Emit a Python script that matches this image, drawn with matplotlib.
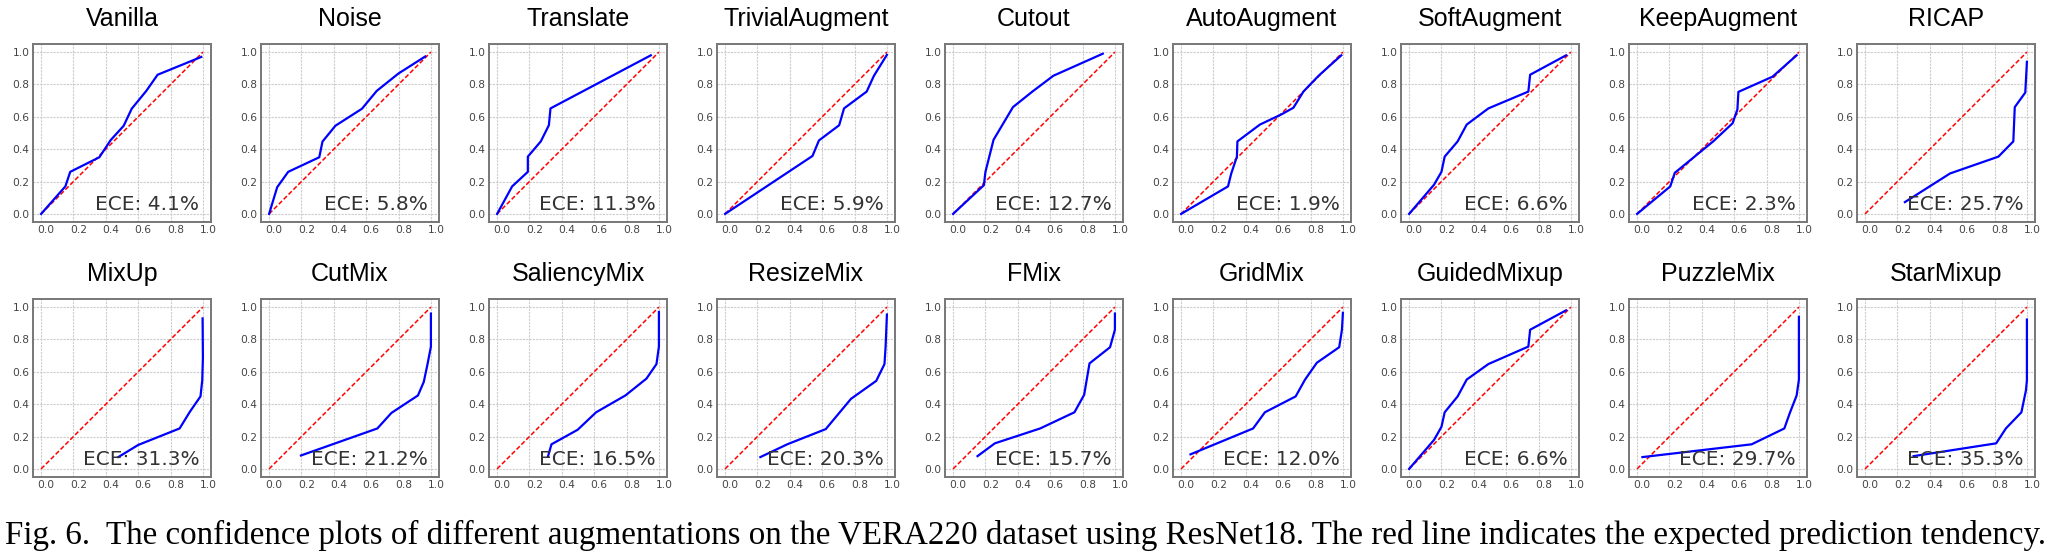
import numpy as np
import matplotlib
matplotlib.use('Agg')
import matplotlib.pyplot as plt
from matplotlib.transforms import ScaledTranslation

W, H = 2051, 553
DPI = 100

names = ['Vanilla', 'Noise', 'Translate', 'TrivialAugment', 'Cutout',
         'AutoAugment', 'SoftAugment', 'KeepAugment', 'RICAP',
         'MixUp', 'CutMix', 'SaliencyMix', 'ResizeMix', 'FMix',
         'GridMix', 'GuidedMixup', 'PuzzleMix', 'StarMixup']
ece = [4.1, 5.8, 11.3, 5.9, 12.7, 1.9, 6.6, 2.3, 25.7,
       31.3, 21.2, 16.5, 20.3, 15.7, 12.0, 6.6, 29.7, 35.3]

# confidence (x) / accuracy (y)
vanilla_x = [0.0, 0.15, 0.18, 0.36, 0.43, 0.51, 0.56, 0.65, 0.72, 0.99]
vanilla_y = [0.0, 0.17, 0.26, 0.35, 0.456, 0.544, 0.65, 0.76, 0.86, 0.97]
noise_x = [0.0, 0.05, 0.118, 0.31, 0.33, 0.41, 0.574, 0.665, 0.80, 0.965]
noise_y = [0.0, 0.165, 0.26, 0.35, 0.447, 0.545, 0.65, 0.76, 0.868, 0.973]
translate_x = [0.0, 0.093, 0.19, 0.19, 0.27, 0.32, 0.33, 0.95]
translate_y = [0.0, 0.17, 0.26, 0.354, 0.448, 0.548, 0.652, 0.98]
trivial_x = [0.0, 0.54, 0.58, 0.705, 0.735, 0.875, 0.92, 1.0]
trivial_y = [0.0, 0.358, 0.454, 0.548, 0.652, 0.756, 0.854, 0.983]
cutout_x = [0.0, 0.19, 0.2, 0.25, 0.37, 0.49, 0.62, 0.925]
cutout_y = [0.0, 0.177, 0.26, 0.458, 0.66, 0.756, 0.854, 0.99]
auto_x = [0.0, 0.29, 0.31, 0.345, 0.348, 0.487, 0.62, 0.694, 0.756, 0.85, 0.99]
auto_y = [0.0, 0.17, 0.25, 0.354, 0.448, 0.552, 0.615, 0.656, 0.756, 0.854, 0.98]
soft_x = [0.0, 0.154, 0.2, 0.22, 0.30, 0.356, 0.49, 0.737, 0.748, 0.97]
soft_y = [0.0, 0.18, 0.26, 0.354, 0.448, 0.552, 0.652, 0.756, 0.86, 0.98]
keep_x = [0.0, 0.205, 0.233, 0.47, 0.59, 0.62, 0.626, 0.837, 0.986]
keep_y = [0.0, 0.17, 0.254, 0.448, 0.56, 0.646, 0.754, 0.848, 0.98]
ricap_x = [0.246, 0.525, 0.824, 0.916, 0.925, 0.99, 1.0]
ricap_y = [0.073, 0.25, 0.354, 0.448, 0.66, 0.75, 0.94]
mixup_x = [0.477, 0.6, 0.856, 0.92, 0.985, 0.996, 1.0, 0.998]
mixup_y = [0.073, 0.148, 0.25, 0.354, 0.448, 0.548, 0.69, 0.93]
cutmix_x = [0.197, 0.669, 0.756, 0.92, 0.956, 0.98, 1.0, 1.0]
cutmix_y = [0.083, 0.25, 0.346, 0.454, 0.538, 0.652, 0.756, 0.96]
saliency_x = [0.315, 0.336, 0.498, 0.612, 0.793, 0.923, 0.985, 1.0, 1.0]
saliency_y = [0.079, 0.152, 0.242, 0.35, 0.454, 0.558, 0.648, 0.756, 0.97]
resize_x = [0.218, 0.384, 0.622, 0.778, 0.934, 0.985, 0.992, 1.0]
resize_y = [0.073, 0.152, 0.246, 0.433, 0.544, 0.648, 0.756, 0.954]
fmix_x = [0.151, 0.258, 0.538, 0.75, 0.81, 0.843, 0.97, 1.0, 1.0]
fmix_y = [0.079, 0.158, 0.25, 0.35, 0.458, 0.652, 0.752, 0.86, 0.96]
grid_x = [0.058, 0.445, 0.518, 0.708, 0.766, 0.839, 0.977, 0.994, 1.0]
grid_y = [0.09, 0.25, 0.35, 0.448, 0.552, 0.656, 0.752, 0.86, 0.965]
guided_x = [0.0, 0.154, 0.2, 0.22, 0.30, 0.356, 0.49, 0.737, 0.748, 0.97]
guided_y = [0.0, 0.179, 0.26, 0.35, 0.448, 0.552, 0.648, 0.756, 0.86, 0.98]
puzzle_x = [0.033, 0.708, 0.91, 0.944, 0.986, 1.0, 1.0]
puzzle_y = [0.073, 0.152, 0.25, 0.346, 0.454, 0.552, 0.94]
star_x = [0.3, 0.81, 0.87, 0.966, 0.994, 1.0, 1.0]
star_y = [0.079, 0.158, 0.25, 0.35, 0.485, 0.548, 0.923]

curves = [(vanilla_x, vanilla_y), (noise_x, noise_y), (translate_x, translate_y),
          (trivial_x, trivial_y), (cutout_x, cutout_y), (auto_x, auto_y),
          (soft_x, soft_y), (keep_x, keep_y), (ricap_x, ricap_y),
          (mixup_x, mixup_y), (cutmix_x, cutmix_y), (saliency_x, saliency_y),
          (resize_x, resize_y), (fmix_x, fmix_y), (grid_x, grid_y),
          (guided_x, guided_y), (puzzle_x, puzzle_y), (star_x, star_y)]

caption = ('Fig. 6.  The confidence plots of different augmentations on the VERA220 '
           'dataset using ResNet18. The red line indicates the expected prediction tendency.')

fig = plt.figure(figsize=(W / DPI, H / DPI), dpi=DPI)

ticks = [0.0, 0.2, 0.4, 0.6, 0.8, 1.0]
ax_w, ax_h = 178, 178
row_tops = [44, 299]
shift = ScaledTranslation(0.05, 0, fig.dpi_scale_trans)

for i, (name, (cx, cy)) in enumerate(zip(names, curves)):
    r, c = divmod(i, 9)
    left = 33 + 228 * c
    bottom = H - row_tops[r] - ax_h
    ax = fig.add_axes([left / W, bottom / H, ax_w / W, ax_h / H])

    ax.plot([0, 1], [0, 1], color='red', linestyle=(0, (3, 1.5)), lw=1.1, zorder=2)
    ax.plot(cx, cy, color='#0000ff', lw=1.6, zorder=3)

    ax.set_xlim(-0.05, 1.05)
    ax.set_ylim(-0.05, 1.05)
    ax.set_xticks(ticks)
    ax.set_yticks(ticks)
    ax.set_xticklabels(['%.1f' % t for t in ticks])
    ax.set_yticklabels(['%.1f' % t for t in ticks])
    ax.tick_params(length=0, pad=2.5, labelsize=7.7, labelcolor='#444444')
    for lab in ax.get_xticklabels():
        lab.set_transform(lab.get_transform() + shift)
    ax.grid(True, color='#cccccc', linestyle=(0, (2, 1)), lw=0.8)
    ax.set_axisbelow(True)
    for sp in ax.spines.values():
        sp.set_color('#777777')
        sp.set_linewidth(1.4)

    ax.set_title(name, fontsize=18, family='Liberation Sans', pad=13)
    ax.text(0.935, 0.065, 'ECE: %.1f%%' % ece[i], transform=ax.transAxes,
            ha='right', va='baseline', fontsize=14.5, color='#333333', zorder=5)

cap = fig.text(0.5, 18 / H, caption, ha='center', va='center',
               family='Liberation Serif', fontsize=20)
fig.canvas.draw()
bb = cap.get_window_extent()
cap.set_fontsize(20 * 2040 / bb.width)

fig.savefig('out.png', dpi=DPI)
